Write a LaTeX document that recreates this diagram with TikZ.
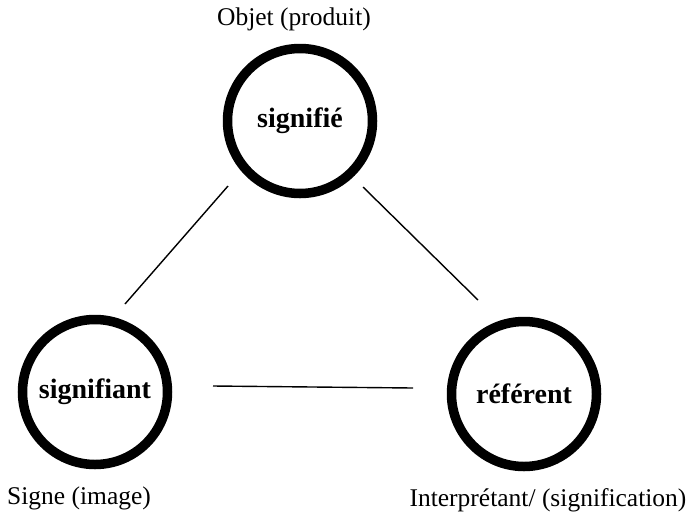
\documentclass[tikz,border=0pt]{standalone}
\usepackage{fontspec}
\setmainfont{Liberation Serif}
\begin{document}
\begin{tikzpicture}[x=1pt,y=-1pt,
  ring/.style={circle, draw=black, line width=9.5pt, minimum size=145pt, inner sep=0pt,
    font=\fontsize{28}{32}\selectfont\bfseries},
  label/.style={font=\fontsize{25.5}{30}\selectfont},
  link/.style={line width=1.4pt}]
\useasboundingbox (0,0) rectangle (698,517);
\node[ring] (top) at (300,121) {signifié};
\node[ring] (left) at (95,392) {signifiant};
\node[ring] (right) at (524,394) {référent};
\node[label] (objet) at (294,19) {Objet (produit)};
\node[label] (signe) at (79,498) {Signe (image)};
\node[label] (interp) at (548,500) {Interprétant/ (signification)};
\coordinate (tl1) at (228,186);
\coordinate (tl2) at (125,304);
\coordinate (tr1) at (363,187);
\coordinate (tr2) at (478,300);
\coordinate (b1) at (213,386);
\coordinate (b2) at (413,388);
\draw[link] (tl1) -- (tl2);
\draw[link] (tr1) -- (tr2);
\draw[link] (b1) -- (b2);
\end{tikzpicture}
\end{document}
